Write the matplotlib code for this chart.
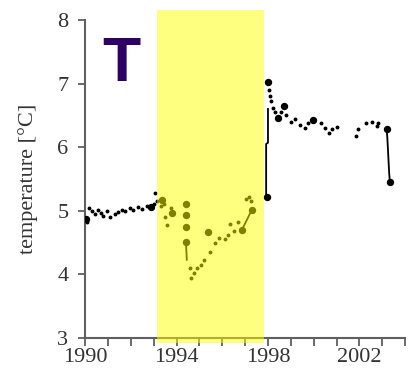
import matplotlib.pyplot as plt
from matplotlib.patches import Rectangle

plt.rcParams['font.family'] = ['Liberation Serif', 'DejaVu Serif']

# small dots of the temperature record (year, degC)
small_x = [1990.05, 1990.1, 1990.15, 1990.3, 1990.45, 1990.55, 1990.7, 1990.8, 1990.95,
           1991.1, 1991.3, 1991.45, 1991.6, 1991.75, 1991.95, 1992.1, 1992.3, 1992.5,
           1992.7, 1992.85, 1993.0, 1993.05,
           1993.15, 1993.3, 1993.45, 1993.5, 1993.6, 1993.75,
           1994.6, 1994.65, 1994.75, 1994.9, 1995.05, 1995.2, 1995.45, 1995.7, 1995.85,
           1996.1, 1996.25, 1996.35, 1996.5, 1996.7, 1997.05, 1997.15, 1997.25,
           1998.05, 1998.1, 1998.15, 1998.2, 1998.3, 1998.55, 1998.8, 1999.0, 1999.2,
           1999.4, 1999.6, 1999.75, 2000.3, 2000.5, 2000.65, 2000.8, 2001.0, 2001.85,
           2001.95, 2002.3, 2002.55, 2002.75, 2002.8]
small_y = [4.88, 4.83, 5.05, 5.0, 4.95, 5.02, 4.97, 4.92, 5.0,
           4.9, 4.95, 4.98, 5.02, 5.0, 5.04, 5.02, 5.06, 5.03,
           5.08, 5.06, 5.1, 5.28,
           5.15, 5.08, 5.1, 4.9, 4.78, 5.05,
           4.1, 3.95, 4.02, 4.1, 4.15, 4.22, 4.35, 4.5, 4.58,
           4.55, 4.62, 4.8, 4.68, 4.82, 5.18, 5.22, 5.15,
           6.9, 6.8, 6.72, 6.62, 6.55, 6.55, 6.5, 6.4, 6.45,
           6.35, 6.3, 6.38, 6.38, 6.3, 6.22, 6.28, 6.32, 6.18,
           6.28, 6.38, 6.4, 6.33, 6.38]

# larger dots
big_x = [1990.05, 1992.88, 1993.36, 1993.8, 1994.41, 1994.41, 1994.41, 1994.41,
         1995.37, 1996.86, 1997.3, 1997.95, 1998.0, 1998.43, 1998.7, 1999.96,
         2003.19, 2003.33]
big_y = [4.87, 5.06, 5.17, 4.97, 5.1, 4.93, 4.75, 4.51,
         4.66, 4.7, 5.02, 5.21, 7.03, 6.46, 6.65, 6.43,
         6.28, 5.46]

# connecting line pieces
seg1_x = [1994.41, 1994.45]
seg1_y = [4.51, 4.23]
seg2_x = [1996.86, 1997.3]
seg2_y = [4.7, 5.02]
seg3_x = [1997.92, 1997.92, 1998.0, 1998.0]
seg3_y = [5.21, 6.05, 6.07, 6.6]
seg4_x = [2003.19, 2003.22, 2003.3, 2003.33]
seg4_y = [6.28, 6.15, 5.6, 5.46]

event_start, event_end = 1993.15, 1997.82

fig = plt.figure(figsize=(4.13, 3.82), dpi=100)
ax = fig.add_axes([0.206, 0.115, 0.775, 0.833])

for sx, sy in [(seg1_x, seg1_y), (seg2_x, seg2_y), (seg3_x, seg3_y), (seg4_x, seg4_y)]:
    ax.plot(sx, sy, color='black', lw=1.3, zorder=2)
ax.plot(small_x, small_y, 'o', color='black', ms=1.8, zorder=3)
ax.plot(big_x, big_y, 'o', color='black', ms=4.3, zorder=3)

ax.add_patch(Rectangle((event_start, 2.92), event_end - event_start, 5.24,
                       facecolor='yellow', alpha=0.5, edgecolor='none',
                       clip_on=False, zorder=5))

ax.text(1990.74, 7.04, 'T', fontsize=45, fontweight='bold', color='#2e0066',
        family='Liberation Sans', ha='left', va='baseline')

ax.set_xlim(1990, 2004)
ax.set_ylim(3, 8)
ax.set_xticks([1990, 1994, 1998, 2002])
ax.set_xticks(range(1990, 2005), minor=True)
ax.set_yticks([3, 4, 5, 6, 7, 8])
ax.set_ylabel('temperature [°C]', fontsize=16, color='#333333', labelpad=14)

for side in ['top', 'right']:
    ax.spines[side].set_visible(False)
for side in ['left', 'bottom']:
    ax.spines[side].set_color('#606060')
    ax.spines[side].set_linewidth(1.5)
ax.tick_params(which='both', direction='out', color='#606060', width=1.3,
               labelsize=16, labelcolor='#333333')
ax.tick_params(axis='x', which='both', length=6, pad=1)
ax.tick_params(axis='y', length=5, pad=7)

plt.savefig('out.png', dpi=100)
